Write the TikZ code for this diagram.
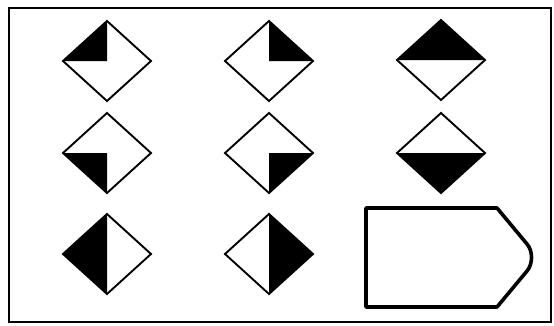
\documentclass[tikz,border=0pt]{standalone}
\usetikzlibrary{shapes.geometric}
\tikzset{
  sigframe/.style={draw, line width=1.3pt},
  sigdiamond/.style={
    diamond, draw, line width=1.9pt, inner sep=0pt, outer sep=0pt,
    minimum width=88pt, minimum height=80pt, line join=miter},
  sigfill/.style={fill=black},
  sigplate/.style={draw, line width=3.6pt, line join=round},
}

\begin{document}
\begin{tikzpicture}[x=1pt, y=-1pt]

% Frame.
\fill[white] (0,0) rectangle (554,325);
\useasboundingbox (0,0) rectangle (554,325);
\draw[sigframe] (9,8) rectangle (551,322);

% Diamond signals: name / x / y / three corners of the black part.
\foreach \n/\x/\y/\pa/\pb/\pc in {
    1/107/61/west/north/center,
    2/269/61/center/north/east,
    3/441/60/west/north/east,
    4/107/153/west/south/center,
    5/269/153/center/south/east,
    6/441/153/west/south/east,
    7/107/254/north/west/south,
    8/269/254/north/east/south} {
  \node[sigdiamond] (d\n) at (\x,\y) {};
  \fill[sigfill] (d\n.\pa) -- (d\n.\pb) -- (d\n.\pc) -- cycle;
}

% Plate with a blunt, rounded point.
\draw[sigplate] (366,208) -- (497,208) -- (527,244)
  .. controls (533,251) and (533,264) .. (527,271)
  -- (497,307) -- (366,307) -- cycle;

\end{tikzpicture}
\end{document}
